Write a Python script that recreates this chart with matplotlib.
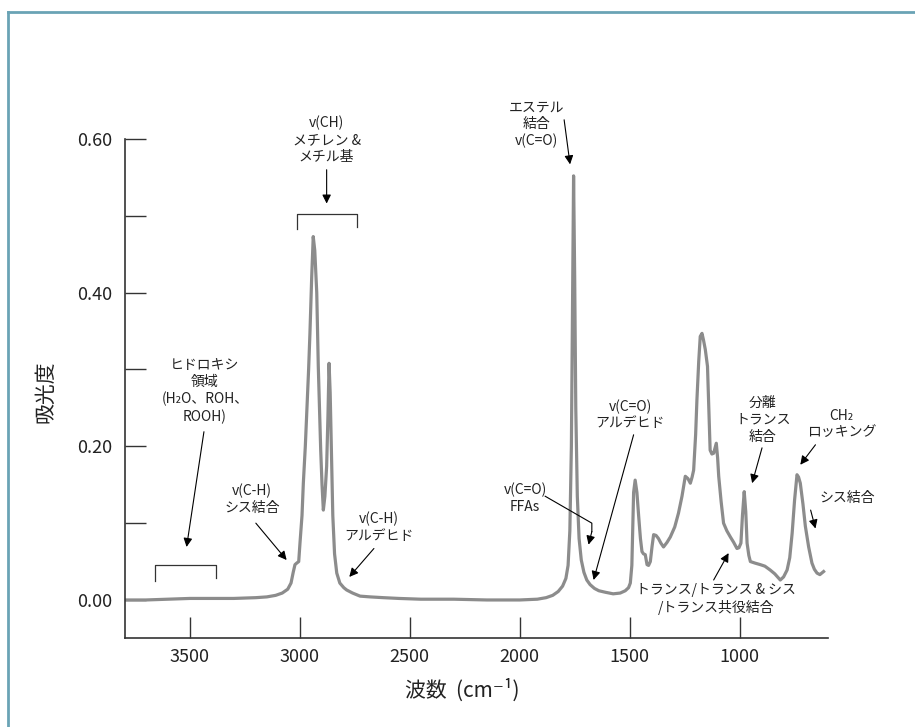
import matplotlib
matplotlib.use("Agg")
import matplotlib.pyplot as plt
from matplotlib.lines import Line2D

plt.rcParams['font.family'] = ['Liberation Sans Narrow', 'Noto Sans CJK JP', 'DejaVu Sans']

# spectrum (wavenumber cm-1, absorbance)
wavenumber = [3795, 3700, 3600, 3500, 3400, 3300, 3200, 3150, 3110, 3080, 3055, 3040,
              3030, 3022, 3014, 3005, 2999, 2990, 2984, 2975, 2969, 2960, 2954, 2946,
              2939, 2932, 2923, 2916, 2905, 2899, 2893, 2886, 2878, 2872, 2867, 2862,
              2858, 2850, 2842, 2832, 2818, 2800, 2787, 2760, 2726, 2680, 2620, 2550,
              2450, 2300, 2150, 2000, 1920, 1880, 1850, 1825, 1805, 1790, 1780, 1772,
              1765, 1760, 1755, 1750, 1745, 1738, 1730, 1720, 1708, 1695, 1680, 1660,
              1640, 1610, 1575, 1543, 1520, 1505, 1497, 1490, 1482, 1475, 1467, 1459,
              1451, 1444, 1437, 1429, 1421, 1414, 1406, 1398, 1391, 1380, 1369, 1358,
              1346, 1330, 1315, 1295, 1278, 1262, 1247, 1235, 1224, 1216, 1209, 1200,
              1194, 1186, 1179, 1171, 1164, 1156, 1146, 1140, 1134, 1126, 1118, 1110,
              1106, 1100, 1095, 1084, 1073, 1058, 1042, 1027, 1012, 1003, 994, 987,
              979, 972, 966, 958, 951, 930, 906, 885, 861, 840, 815, 800,
              784, 772, 761, 750, 739, 732, 724, 712, 701, 686, 671, 660,
              648, 635, 618]
absorbance = [0.000, 0.000, 0.001, 0.002, 0.002, 0.002, 0.003, 0.004, 0.006, 0.009, 0.014, 0.022,
              0.036, 0.046, 0.048, 0.050, 0.075, 0.110, 0.152, 0.200, 0.239, 0.300, 0.347, 0.420,
              0.473, 0.455, 0.400, 0.304, 0.195, 0.150, 0.117, 0.135, 0.174, 0.240, 0.308, 0.270,
              0.217, 0.110, 0.060, 0.035, 0.022, 0.016, 0.013, 0.009, 0.005, 0.004, 0.003, 0.002,
              0.001, 0.001, 0.000, 0.000, 0.001, 0.003, 0.006, 0.011, 0.018, 0.028, 0.045, 0.090,
              0.200, 0.380, 0.552, 0.420, 0.250, 0.135, 0.080, 0.052, 0.036, 0.026, 0.020, 0.015,
              0.012, 0.010, 0.008, 0.009, 0.012, 0.016, 0.022, 0.045, 0.140, 0.156, 0.140, 0.109,
              0.080, 0.063, 0.060, 0.059, 0.046, 0.045, 0.050, 0.070, 0.085, 0.084, 0.080, 0.074,
              0.069, 0.075, 0.082, 0.095, 0.113, 0.135, 0.161, 0.158, 0.152, 0.160, 0.169, 0.215,
              0.261, 0.310, 0.343, 0.347, 0.338, 0.326, 0.304, 0.250, 0.195, 0.190, 0.191, 0.200,
              0.204, 0.185, 0.161, 0.128, 0.100, 0.090, 0.082, 0.075, 0.067, 0.068, 0.074, 0.110,
              0.141, 0.115, 0.074, 0.058, 0.050, 0.048, 0.046, 0.044, 0.039, 0.034, 0.026, 0.030,
              0.039, 0.055, 0.087, 0.130, 0.163, 0.160, 0.152, 0.125, 0.096, 0.069, 0.048, 0.040,
              0.035, 0.033, 0.037]

x_ticks = [3500, 3000, 2500, 2000, 1500, 1000]
y_ticks = [0.0, 0.2, 0.4, 0.6]
y_labels = ['0.00', '0.20', '0.40', '0.60']
y_minor = [0.1, 0.3, 0.5]

# annotations: text, text position, arrow start, arrow tip
notes = [
    ('ヒドロキシ\n領域\n(H₂O、ROH、\nROOH)', (3432, 0.272), (3436, 0.219), (3515, 0.069)),
    ('v(C-H)\nシス結合', (3218, 0.131), (3200, 0.100), (3060, 0.052)),
    ('v(C-H)\nアルデヒド', (2640, 0.094), (2663, 0.067), (2775, 0.030)),
    ('v(CH)\nメチレン &\nメチル基', (2878, 0.599), (2878, 0.560), (2878, 0.516)),
    ('エステル\n結合\nv(C=O)', (1925, 0.619), (1798, 0.625), (1771, 0.567)),
    ('v(C=O)\nアルデヒド', (1497, 0.241), (1482, 0.215), (1664, 0.026)),
    ('分離\nトランス\n結合', (894, 0.2345), (898, 0.198), (943, 0.152)),
    ('CH₂\nロッキング', (537, 0.229), (655, 0.202), (724, 0.176)),
    ('シス結合', (511, 0.1325), (677, 0.117), (655, 0.093)),
    ('トランス/トランス & シス\n/トランス共役結合', (1106, 0.0013), (1118, 0.026), (1050, 0.061)),
]

fig = plt.figure(figsize=(9.15, 7.27), dpi=100)
ax = fig.add_axes([125/915, 89/727, 703/915, 499/727])

ax.plot(wavenumber, absorbance, color='#8c8c8c', lw=2.3, solid_joinstyle='round')

ax.set_xlim(3795, 598)
ax.set_ylim(-0.0495, 0.60)

for s in ['top', 'right']:
    ax.spines[s].set_visible(False)
for s in ['left', 'bottom']:
    ax.spines[s].set_color('#333333')
    ax.spines[s].set_linewidth(1.2)

ax.set_xticks(x_ticks)
ax.set_yticks(y_ticks)
ax.set_yticklabels(y_labels)
ax.set_yticks(y_minor, minor=True)
ax.tick_params(axis='both', which='both', direction='in', length=15, width=1.0,
               color='#333333', labelsize=13, labelcolor='#222222')
ax.tick_params(axis='y', pad=9)
ax.tick_params(axis='x', pad=7)

fig.text(45/915, 1 - 392/727, '吸光度', rotation=90, fontsize=15,
         ha='center', va='center', color='#222222')
fig.text(462/915, 1 - 690/727, '波数  (cm⁻¹)', fontsize=15,
         ha='center', va='center', color='#222222')

for txt, pos, start, tip in notes:
    ax.text(pos[0], pos[1], txt, ha='center', va='center', fontsize=10,
            linespacing=1.25, color='#222222', clip_on=False)
    ax.annotate('', xy=tip, xytext=start, annotation_clip=False,
                arrowprops=dict(arrowstyle='-|>', color='black', lw=0.8,
                                mutation_scale=13, shrinkA=0, shrinkB=0))

# FFAs label with bent leader
ax.text(1975, 0.132, 'v(C=O)\nFFAs', ha='center', va='center', fontsize=10,
        linespacing=1.25, color='#222222')
ax.plot([1884, 1672, 1672], [0.135, 0.100, 0.089], color='black', lw=0.8)
ax.annotate('', xy=(1687, 0.072), xytext=(1672, 0.089),
            arrowprops=dict(arrowstyle='-|>', color='black', lw=0.8,
                            mutation_scale=13, shrinkA=0, shrinkB=0))

# brackets
ax.plot([3659, 3659, 3382, 3382], [0.025, 0.0456, 0.0456, 0.028], color='#333333', lw=0.9)
ax.plot([3014, 3014, 2738, 2738], [0.483, 0.503, 0.503, 0.486], color='#333333', lw=0.9,
        clip_on=False)

# page frame
fig.add_artist(Line2D([8/915, 1], [1 - 12/727, 1 - 12/727], color='#6aa3b5', lw=2))
fig.add_artist(Line2D([8/915, 8/915], [0, 1 - 12/727], color='#6aa3b5', lw=2))

fig.savefig('out.png', dpi=100)
